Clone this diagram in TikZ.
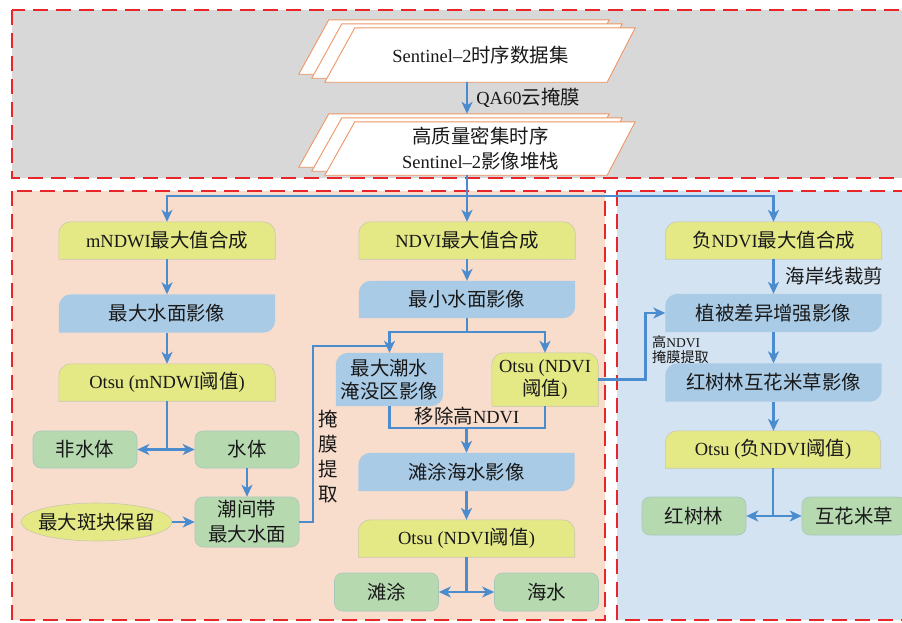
\documentclass[tikz,border=0pt]{standalone}
\usepackage{fontspec}
\setmainfont{Liberation Serif}
\newfontfamily\cjk[Scale=1.05]{Noto Sans CJK SC}
\newcommand\zh[1]{{\cjk #1}}
\usetikzlibrary{arrows.meta,shapes.geometric,calc}
\definecolor{gbg}{RGB}{216,216,216}
\definecolor{obg}{RGB}{249,221,204}
\definecolor{bbg}{RGB}{212,227,241}
\definecolor{yel}{RGB}{228,233,134}
\definecolor{yelb}{RGB}{200,200,170}
\definecolor{blu}{RGB}{170,203,230}
\definecolor{grn}{RGB}{182,217,176}
\definecolor{grnb}{RGB}{165,200,185}
\definecolor{acol}{RGB}{74,140,205}
\definecolor{redd}{RGB}{232,38,42}
\definecolor{orb}{RGB}{238,150,100}
\pgfdeclarelayer{bgA}\pgfdeclarelayer{bgB}
\pgfsetlayers{bgA,bgB,main}
\newcommand\ytop[1]{%
  \path[fill=yel,draw=yelb,line width=.6pt] (#1.south west) -- ([yshift=-12pt]#1.north west)
    arc[start angle=180,end angle=90,radius=12pt] -- ([xshift=-12pt]#1.north east)
    arc[start angle=90,end angle=0,radius=12pt] -- (#1.south east) -- cycle;}
\newcommand\bshape[1]{%
  \path[fill=blu] (#1.south west) -- ([yshift=-12pt]#1.north west)
    arc[start angle=180,end angle=90,radius=12pt] -- (#1.north east)
    -- ([yshift=12pt]#1.south east) arc[start angle=0,end angle=-90,radius=12pt] -- cycle;}
\newcommand\para[3]{%
  \path[fill=white,draw=orb,line width=.9pt]
    ([shift={(#2+15pt,#3)}]#1.north west) -- ([shift={(#2+14pt,#3)}]#1.north east)
    -- ([shift={(#2-14pt,#3)}]#1.south east) -- ([shift={(#2-15pt,#3)}]#1.south west) -- cycle;}
\tikzset{
  txt/.style={font=\fontsize{18.5}{25}\selectfont, text=black!90, inner sep=0pt, align=center},
  small/.style={font=\fontsize{13.5}{15.5}\selectfont, text=black!90, inner sep=0pt, align=left},
  wbox/.style={txt, minimum width=216pt, minimum height=37pt},
  gbox/.style={txt, fill=grn, draw=grnb, line width=.6pt, rounded corners=8pt, minimum width=104pt, minimum height=37pt},
  ln/.style={draw=acol, line width=2.7pt},
  arr/.style={ln, -{Stealth[length=12pt,width=11pt,inset=3.5pt]}},
  dbl/.style={ln, {Stealth[length=12pt,width=11pt,inset=3.5pt]}-{Stealth[length=12pt,width=11pt,inset=3.5pt]}},
  region/.style={draw=redd, line width=1.8pt, dash pattern=on 15pt off 8pt},
}
\begin{document}
\begin{tikzpicture}[x=1pt,y=1pt]
\useasboundingbox (0,0) rectangle (902,-622);
% regions
\begin{pgfonlayer}{bgA}
  \path[fill=gbg,region] (12,-10) rectangle (920,-178);
  \path[fill=obg,region] (12,-191) rectangle (605,-620);
  \path[fill=bbg,region] (617,-191) rectangle (920,-620);
\end{pgfonlayer}
% top stacks
\node[txt, minimum width=281pt, minimum height=54pt] (s1) at (480.5,-55) {Sentinel–2\zh{时序数据集}};
\node[txt, minimum width=281pt, minimum height=53pt] (s2) at (480.5,-148.5) {\zh{高质量密集时序}\\Sentinel–2\zh{影像堆栈}};
% left column
\node[wbox] (a1) at (167,-240.5) {mNDWI\zh{最大值合成}};
\node[wbox, minimum height=38pt] (a2) at (167,-313.5) {\zh{最大水面影像}};
\node[wbox] (a3) at (167,-382.5) {Otsu (mNDWI\zh{阈值})};
\node[gbox] (a4a) at (85,-449.5) {\zh{非水体}};
\node[gbox] (a4b) at (247,-449.5) {\zh{水体}};
\node[gbox, minimum height=50pt] (a5) at (247,-522) {\zh{潮间带}\\\zh{最大水面}};
\node[txt, ellipse, inner xsep=-25pt, fill=yel, draw=yelb, line width=.6pt, minimum width=151pt, minimum height=38pt] (e) at (96.5,-522) {\zh{最大斑块保留}};
% middle column
\node[wbox] (b1) at (467,-240.5) {NDVI\zh{最大值合成}};
\node[wbox] (b2) at (467,-299.5) {\zh{最小水面影像}};
\node[txt, font=\fontsize{18.5}{23}\selectfont, minimum width=107pt, minimum height=53pt] (b3a) at (389.5,-379.5) {\zh{最大潮水}\\\zh{淹没区影像}};
\node[txt, font=\fontsize{18.5}{23}\selectfont, minimum width=106pt, minimum height=53pt] (b3b) at (545,-379.5) {Otsu (NDVI\\\zh{阈值})};
\node[wbox, minimum height=38pt] (b4) at (466.5,-472) {\zh{滩涂海水影像}};
\node[wbox] (b5) at (466.5,-538.5) {Otsu (NDVI\zh{阈值})};
\node[gbox, minimum height=38pt] (b6a) at (386.5,-592) {\zh{滩涂}};
\node[gbox, minimum height=38pt] (b6b) at (546.5,-592) {\zh{海水}};
% right column
\node[wbox] (c1) at (773.5,-240.5) {\zh{负}NDVI\zh{最大值合成}};
\node[wbox, minimum height=38pt] (c2) at (773.5,-313) {\zh{植被差异增强影像}};
\node[wbox, minimum height=38pt] (c3) at (773.5,-382.5) {\zh{红树林互花米草影像}};
\node[wbox, minimum width=215pt] (c4) at (773,-449.5) {Otsu (\zh{负}NDVI\zh{阈值})};
\node[gbox, minimum height=38pt] (c5a) at (694,-516) {\zh{红树林}};
\node[gbox, minimum height=38pt] (c5b) at (854,-516) {\zh{互花米草}};
% shapes
\begin{pgfonlayer}{bgB}
  \para{s1}{-26pt}{8pt}\para{s1}{-13pt}{4pt}\para{s1}{0pt}{0pt}
  \para{s2}{-26pt}{8pt}\para{s2}{-13pt}{4pt}\para{s2}{0pt}{0pt}
  \ytop{a1}\bshape{a2}\ytop{a3}
  \ytop{b1}\bshape{b2}\bshape{b3a}\ytop{b3b}\bshape{b4}\ytop{b5}
  \ytop{c1}\bshape{c2}\bshape{c3}\ytop{c4}
\end{pgfonlayer}
% connectors
\draw[arr] ([xshift=-13.5pt]s1.south) -- ([xshift=-13.5pt,yshift=8pt]s2.north)
  node[midway, right=8pt, txt] {QA60\zh{云掩膜}};
\coordinate (J) at (467,-196);
\draw[ln] ([xshift=-13.5pt]s2.south) -- (J);
\draw[arr] (J) -| (a1.north);
\draw[arr] (J) -- (b1.north);
\draw[arr] (J) -| (c1.north);
% left
\draw[arr] (a1) -- (a2);
\draw[arr] (a2) -- (a3);
\draw[ln] (a3.south) -- (a3.south |- a4a.center);
\draw[dbl] (a4a) -- (a4b);
\draw[arr] (a4b) -- (a5);
\draw[arr] (e) -- (a5);
\coordinate (Jm) at (389.5,-346);
\draw[ln] (a5.east) -| (313,-346) -- (Jm);
\node[txt] at (328,-457) {\zh{掩}\\\zh{膜}\\\zh{提}\\\zh{取}};
% middle
\draw[arr] (b1) -- (b2);
\coordinate (Jb) at (467,-332);
\draw[ln] (b2.south) -- (Jb);
\draw[arr] (Jb) -| (b3a.north);
\draw[arr] (Jb) -| (b3b.north);
\coordinate (Jc) at (466.5,-428);
\draw[ln] (b3a.south) |- (Jc) -| (b3b.south);
\draw[arr] (Jc) -- (b4.north);
\node[txt] at (467,-416) {\zh{移除高}NDVI};
\draw[arr] (b4) -- (b5);
\draw[ln] (b5.south) -- (b5.south |- b6a.center);
\draw[dbl] (b6a) -- (b6b);
\draw[arr] (b3b.east) -- ++(47,0) |- (c2.west);
\node[small, anchor=north west] at (652,-335) {\zh{高}NDVI\\\zh{掩膜提取}};
% right
\draw[arr] (c1) -- (c2) node[midway, right=11pt, txt] {\zh{海岸线裁剪}};
\draw[arr] (c2) -- (c3);
\draw[arr] (c3.south) -- (c3.south |- c4.north);
\draw[ln] (c4.south) -- (c4.south |- c5a.center);
\draw[dbl] (c5a) -- (c5b);
\end{tikzpicture}
\end{document}
